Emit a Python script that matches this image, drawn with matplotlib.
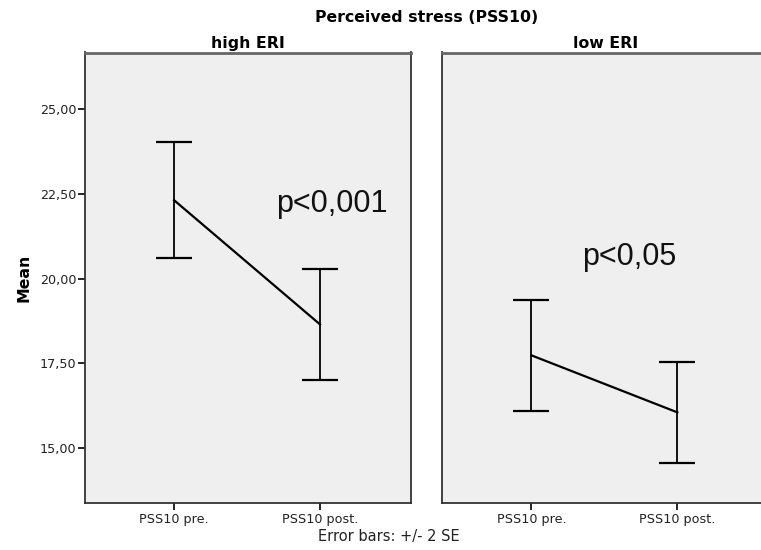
import numpy as np
import matplotlib
matplotlib.use('Agg')
import matplotlib.pyplot as plt

# data
conditions = ['PSS10 pre.', 'PSS10 post.']
groups = ['high ERI', 'low ERI']
high_mean = [22.31, 18.65]
high_err = [1.70, 1.64]   # 2 SE
low_mean = [17.74, 16.06]
low_err = [1.64, 1.48]
p_labels = ['p<0,001', 'p<0,05']
p_pos = [(1.70, 22.21), (1.35, 20.63)]

plt.rcParams['font.family'] = ['Liberation Sans', 'DejaVu Sans']

W, H = 761, 550
fig = plt.figure(figsize=(W / 100, H / 100), dpi=100)

top, bottom = 52.5, 503
pw = 326
lefts = [85, 442.3]
axes = []
for lx in lefts:
    ax = fig.add_axes([lx / W, 1 - bottom / H, pw / W, (bottom - top) / H])
    axes.append(ax)

bold = dict(family='DejaVu Sans', fontweight='bold', fontsize=11.3)

x = np.arange(1, len(conditions) + 1)
for i, (ax, m, e) in enumerate(zip(axes, [high_mean, low_mean], [high_err, low_err])):
    ax.set_facecolor('#efefef')
    ax.errorbar(x, m, yerr=e, color='black', lw=1.6, elinewidth=1.3,
                capsize=13, capthick=1.6)
    ax.set_xlim(0.39, 2.623)
    ax.set_ylim(13.39, 26.66)
    ax.set_xticks(x)
    ax.set_xticklabels(conditions, family='DejaVu Sans', fontsize=9.2,
                       color='#222222')
    ax.tick_params(axis='x', length=5, width=1.2, direction='out', pad=2)
    for s in ax.spines.values():
        s.set_color('#333333')
        s.set_linewidth(1.3)
    ax.spines['top'].set_color('#666666')
    ax.spines['top'].set_linewidth(2)
    ax.set_title(groups[i], pad=3, **bold)
    ax.text(p_pos[i][0], p_pos[i][1], p_labels[i], fontsize=22, va='center',
            ha='left', color='#111111')

ax0 = axes[0]
ax0.set_yticks([15, 17.5, 20, 22.5, 25])
ax0.set_yticklabels(['15,00', '17,50', '20,00', '22,50', '25,00'],
                    family='DejaVu Sans', fontsize=9.2, color='#222222')
ax0.tick_params(axis='y', length=5, width=1.2, direction='out', pad=1)
ax0.set_ylabel('Mean', labelpad=6, **bold)
axes[1].set_yticks([])

fig.text(426.5 / W, 1 - 17 / H, 'Perceived stress (PSS10)', ha='center',
         va='center', **bold)
fig.text(389 / W, 1 - 537 / H, 'Error bars: +/- 2 SE', ha='center', va='center',
         family='DejaVu Sans', fontsize=10.5, color='#222222')

fig.savefig('out.png', dpi=100)
